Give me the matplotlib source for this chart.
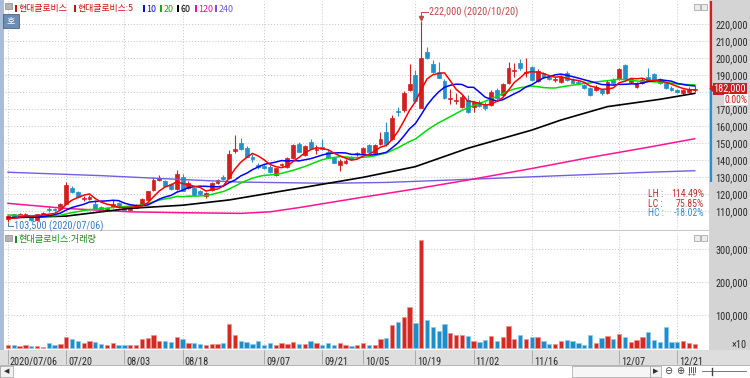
import numpy as np
import pandas as pd
import matplotlib
matplotlib.use("Agg")
import matplotlib.pyplot as plt
import matplotlib.transforms as mtransforms
from matplotlib import font_manager
from matplotlib.font_manager import FontProperties
from matplotlib.patches import Rectangle, Polygon

# ---------------- data ----------------
name = "현대글로비스"

tick_idx = [0, 10, 20, 30, 44, 54, 61, 70, 80, 90, 105, 115]
tick_labels = ["2020/07/06", "07/20", "08/03", "08/18", "09/07", "09/21",
               "10/05", "10/19", "11/02", "11/16", "12/07", "12/21"]

# closes before 07/06, only used to start the 5/10/20 day averages
prior_close = [110000, 112500, 111000, 109000, 107500, 106000, 108000, 110500, 109500, 108000,
               107000, 106500, 105500, 106000, 107500, 106500, 105000, 104500, 105500]

open_ = [105500, 108000, 107000, 107500, 106500, 105000, 107500, 111000, 111000, 111300,
         114200, 123800, 121000, 117300, 117000, 114000, 112300, 111000, 112300, 114800,
         111700, 110500, 112000, 113600, 116700, 122500, 128300, 127700, 125700, 122900,
         130200, 123800, 123300, 121900, 119000, 122300, 126300, 130200, 129600, 145500,
         150000, 147300, 142000, 137000, 136500, 136100, 131200, 137000, 136100, 141000,
         149200, 143000, 150400, 146000, 147800, 145000, 141400, 137000, 138000, 141500,
         143300, 144000, 148800, 144300, 149400, 156700, 152400, 169000, 169400, 181200,
         190000, 170800, 203300, 196300, 191600, 186500, 175800, 174800, 171400, 175300,
         171400, 174000, 172500, 172400, 181200, 178200, 185100, 192500, 196900, 191000,
         194900, 186700, 191000, 189000, 187300, 186000, 191000, 187000, 186000, 184100,
         182200, 181200, 181200, 179200, 187100, 187500, 195900, 186100, 183100, 185100,
         189000, 190400, 187500, 185100, 182500, 181200, 179200, 180200, 181000]

high = [107500, 108500, 109000, 109000, 107000, 108500, 109500, 113000, 112000, 115000,
        127000, 125000, 122000, 119000, 119500, 116500, 113000, 112500, 116700, 115500,
        112500, 112500, 114000, 117500, 122000, 130000, 131000, 128500, 126500, 134400,
        131500, 127500, 124000, 122500, 121000, 127000, 129000, 131000, 146000, 154700,
        153000, 148500, 143500, 138000, 137500, 137000, 135500, 138500, 141500, 149500,
        150500, 149000, 152500, 149000, 152300, 146000, 142000, 140500, 140500, 142500,
        145000, 147800, 149500, 149500, 156700, 162500, 166500, 171000, 180500, 196300,
        193000, 222000, 206700, 199000, 197800, 187500, 182000, 179500, 178000, 178500,
        175000, 175500, 174000, 181000, 182500, 185500, 197800, 196900, 199500, 199800,
        195500, 193500, 192000, 190000, 189000, 190000, 192500, 188000, 187000, 185000,
        183000, 184000, 182000, 187000, 188500, 194000, 196500, 188500, 186000, 188000,
        194000, 191000, 188500, 186000, 183500, 182000, 182000, 183000, 183500]

low = [103500, 106000, 106500, 107000, 104000, 104500, 107000, 109500, 110000, 111000,
       114000, 120500, 117500, 116000, 116500, 111000, 110500, 110500, 112000, 112000,
       110000, 110000, 111500, 113000, 116500, 122000, 127500, 124500, 122500, 122500,
       121500, 123000, 119000, 119500, 117500, 122000, 126000, 128300, 129000, 144000,
       146000, 141500, 139000, 135000, 135000, 132500, 130800, 136000, 135500, 140500,
       144500, 142500, 146500, 143500, 146000, 141000, 138000, 133700, 137500, 140000,
       142500, 143500, 144500, 144000, 149000, 148500, 152000, 166000, 168500, 180500,
       174000, 170500, 199600, 191000, 188000, 175800, 173000, 173000, 170500, 167500,
       168500, 171000, 169500, 171500, 175500, 177500, 184500, 189000, 193000, 189000,
       186500, 186000, 188500, 187000, 186000, 185500, 186500, 184500, 184500, 181500,
       177500, 180500, 178500, 179000, 185000, 187000, 187000, 185500, 182500, 184500,
       186500, 186500, 185000, 181500, 180500, 179500, 178500, 179500, 180000]

close = [107000, 106500, 108500, 108500, 104500, 108000, 109000, 110500, 110800, 114200,
         125200, 121300, 118100, 117700, 118000, 111300, 111000, 112000, 114200, 112300,
         110400, 112000, 113300, 117100, 121500, 128000, 129200, 124800, 122900, 131500,
         122000, 126700, 119400, 120000, 120500, 126300, 128300, 128700, 143700, 146500,
         146500, 142000, 140600, 136000, 135500, 133100, 135100, 137800, 141000, 148800,
         144900, 148400, 147300, 146500, 146500, 141400, 138400, 139600, 139600, 140600,
         144300, 147300, 145000, 148800, 152400, 149200, 164900, 168400, 179200, 184500,
         174700, 199800, 200200, 191600, 188400, 176300, 176300, 175300, 177300, 168000,
         174300, 171500, 170400, 180200, 176300, 184700, 193900, 193000, 193900, 192000,
         187000, 192500, 189000, 187500, 187500, 189000, 187100, 185100, 185100, 182200,
         178200, 183100, 179200, 186100, 185500, 193300, 187500, 187500, 185100, 187100,
         187100, 187100, 185500, 182200, 181200, 180200, 181200, 182000, 182000]

# volume in chart units (x10)
volume = [8000, 10000, 7000, 9000, 6000, 6000, 4000, 15000, 9000, 11000,
          33000, 26000, 21000, 15000, 20000, 19000, 11000, 9000, 15000, 8000,
          8000, 10000, 9000, 28000, 30000, 40000, 21000, 21000, 18000, 33000,
          27000, 16000, 15000, 12000, 9000, 12000, 12000, 15000, 72000, 40000,
          20000, 18000, 12000, 20000, 8000, 14000, 8000, 14000, 12000, 19000,
          11000, 12000, 20000, 15000, 10000, 14000, 10000, 14000, 8000, 6000,
          8000, 15000, 10000, 10000, 28000, 30000, 70000, 79000, 93000, 125000,
          76000, 327000, 85000, 64000, 51000, 74000, 46000, 40000, 40000, 36000,
          20000, 18000, 23000, 35000, 20000, 33000, 66000, 27000, 38000, 27000,
          32000, 32000, 20000, 12000, 12000, 20000, 25000, 20000, 14000, 10000,
          38000, 14000, 30000, 35000, 26000, 42000, 33000, 18000, 24000, 32000,
          47000, 23000, 17000, 64000, 19000, 17000, 20000, 16000, 11000]

# long averages need history the chart does not show: read at a few days
ma60_idx = [0, 10, 21, 30, 38, 50, 61, 70, 79, 90, 95, 103, 112, 118]
ma60_val = [106000, 107000, 111600, 113400, 116500, 123400, 129800, 136100, 146900,
            157600, 163500, 171400, 175700, 179200]
ma120_idx = [0, 10, 21, 30, 40, 45, 50, 60, 70, 79, 90, 100, 110, 118]
ma120_val = [114500, 111500, 109500, 109000, 108600, 109500, 112000, 117600, 123000,
             128200, 135000, 141500, 147500, 152500]
ma240_idx = [0, 16, 30, 40, 55, 65, 79, 95, 110, 118]
ma240_val = [132800, 130800, 128500, 127000, 126300, 126800, 128600, 130800, 132800, 133700]

side_bar_low = 127000

# ---------------- fonts ----------------
avail = {f.name for f in font_manager.fontManager.ttflist}
narrow = None
for cand in ["Liberation Sans Narrow", "Roboto Condensed", "Open Sans Condensed"]:
    if cand in avail:
        narrow = cand
        break
if narrow:
    NUM = FontProperties(family=narrow, size=7.4)
    NUM_S = FontProperties(family=narrow, size=7.0)
else:
    NUM = FontProperties(family="DejaVu Sans", stretch="condensed", size=5.9)
    NUM_S = FontProperties(family="DejaVu Sans", stretch="condensed", size=5.6)
KR = ["Noto Sans CJK KR", "DejaVu Sans"]

RED = "#d21f1f"
BLUE = "#2390c9"

# ---------------- layout helpers ----------------
W, H = 750, 378
fig = plt.figure(figsize=(W / 100, H / 100), dpi=100)
fig.patch.set_facecolor("white")


def fbox(x0, y0, x1, y1):
    return [x0 / W, 1 - y1 / H, (x1 - x0) / W, (y1 - y0) / H]


def frect(x0, y0, x1, y1, zorder=-1, **kw):
    fig.patches.append(Rectangle((x0 / W, 1 - y1 / H), (x1 - x0) / W, (y1 - y0) / H,
                                 transform=fig.transFigure, zorder=zorder, **kw))


def ftext(x, y, s, **kw):
    return fig.text(x / W, 1 - y / H, s, **kw)


# backgrounds (behind the axes)
frect(709, 0, 750, 350, fc="#d4d4d4", ec="none")
frect(0, 350, 750, 365, fc="#dedede", ec="none")
frect(0, 365, 750, 378, fc="white", ec="#a8a8a8", lw=0.6)
frect(0, 0, 4, 350, fc="#a9bddb", ec="none")
frect(4, 229.5, 709, 231, fc="#c8c8c8", ec="none")

P_TOP, P_BOT = 1, 229
V_TOP, V_BOT = 233, 350
ax = fig.add_axes(fbox(5, P_TOP, 709, P_BOT))
axv = fig.add_axes(fbox(5, V_TOP, 709, V_BOT), sharex=ax)

x = np.arange(len(close))
o = np.array(open_)
h = np.array(high)
l = np.array(low)
c = np.array(close)
up = c >= o
cols = np.where(up, RED, BLUE)

# ---------------- price panel ----------------
ax.vlines(x, l, h, colors=cols, lw=0.8, zorder=3)
body_lo = np.minimum(o, c)
body_h = np.maximum(np.abs(c - o), 250)
ax.bar(x, body_h, bottom=body_lo, width=0.66, color=cols, edgecolor=cols, lw=0.5, zorder=4)

full = pd.Series(prior_close + close, dtype=float)
n_prior = len(prior_close)
for n, colr in [(20, "#00dd00"), (10, "#0000ff"), (5, "#ff0000")]:
    ma = full.rolling(n).mean().to_numpy()[n_prior:]
    ax.plot(x, ma, color=colr, lw=1.1, zorder=6)
ax.plot(ma240_idx, ma240_val, color="#7060e0", lw=1.0, zorder=5)
ax.plot(ma120_idx, ma120_val, color="#ff1493", lw=1.1, zorder=5)
ax.plot(ma60_idx, ma60_val, color="black", lw=1.2, zorder=5)

ax.set_xlim((5 - 8) / 5.82, (709 - 8) / 5.82)
ax.set_ylim(220000 - (P_BOT - 24) / 17 * 10000, 220000 + (24 - P_TOP) / 17 * 10000)
# the current-price box hides the tick label it sits on
yt = [v for v in range(110000, 220001, 10000) if abs(v - c[-1]) > 5000]
ax.set_yticks(yt)
ax.set_yticklabels([f"{v:,}" for v in yt])
ax.yaxis.tick_right()
ax.tick_params(axis="y", length=0, pad=4.5, labelcolor="#2a2a2a")
for t in ax.get_yticklabels():
    t.set_fontproperties(NUM)
ax.set_xticks(tick_idx)
ax.tick_params(axis="x", length=0, labelbottom=False)
grid_kw = dict(color="#c4c4c4", linestyle=(0, (1, 2)), lw=0.7)
ax.grid(True, **grid_kw)
ax.axhline(180000, **grid_kw, zorder=0)
ax.set_axisbelow(True)
for s in ax.spines.values():
    s.set_visible(False)

# high / low marks
hi_i = int(np.argmax(h))
lo_i = int(np.argmin(l))
hi_c = "#c04848"
ax.plot([hi_i, hi_i, hi_i + 1.2], [h[hi_i] + 600, h[hi_i] + 5000, h[hi_i] + 5000], color=hi_c, lw=0.7, zorder=7)
ax.plot([hi_i], [h[hi_i] + 1800], marker="v", ms=3, color=hi_c, zorder=7)
ax.text(hi_i + 1.3, h[hi_i] + 5000, f"{h[hi_i]:,} (2020/10/20)", color=hi_c, va="center",
        ha="left", fontproperties=NUM, zorder=7)
lo_c = "#3b7cc0"
ax.plot([lo_i, lo_i, lo_i + 0.9], [l[lo_i] - 300, l[lo_i] - 2400, l[lo_i] - 2400], color=lo_c, lw=0.7, zorder=7)
ax.text(lo_i + 1.0, l[lo_i] - 2400, f"{l[lo_i]:,} (2020/07/06)", color=lo_c, va="center",
        ha="left", fontproperties=NUM, zorder=7)

# period stats
lh = (h.max() / l.min() - 1) * 100
lc = (c[-1] / l.min() - 1) * 100
hc = (c[-1] / h.max() - 1) * 100
for yy, lab, val, colr in [(194, "LH :", lh, "#c03030"), (204, "LC :", lc, "#c03030"),
                           (213, "HC :", hc, "#3a8cc8")]:
    ftext(648, yy, lab, color=colr, va="center", ha="left", fontproperties=NUM_S)
    ftext(704, yy, f"{val:.2f}%", color=colr, va="center", ha="right", fontproperties=NUM_S)

# current price box and side bar
blend = mtransforms.blended_transform_factory(ax.transAxes, ax.transData)
ylo, yhi = ax.get_ylim()
ax.vlines([1.0022], [c[-1]], [yhi], colors="#d02020", lw=1.6, transform=blend, clip_on=False)
ax.vlines([1.0022], [side_bar_low], [c[-1]], colors="#2a8fd0", lw=1.6, transform=blend, clip_on=False)
ax.add_patch(Polygon([(1.0005, c[-1]), (1.0065, c[-1] + 2300), (1.0065, c[-1] - 2300)],
                     closed=True, fc="#c81e1e", ec="none", transform=blend, clip_on=False, zorder=8))
ax.text(1.0065, c[-1], f"{c[-1]:,}", transform=blend, ha="left", va="center", color="white",
        fontproperties=NUM, clip_on=False, zorder=9,
        bbox=dict(boxstyle="square,pad=0.1", fc="#c81e1e", ec="none"))
chg = (c[-1] / c[-2] - 1) * 100
ax.text(1.0545, c[-1] - 6600, f"{chg:.2f}%", transform=blend, ha="right", va="center",
        color="#d02020", fontproperties=NUM_S, clip_on=False, zorder=9,
        bbox=dict(boxstyle="square,pad=0.05", fc="white", ec="none"))

# ---------------- volume panel ----------------
vcol = np.where(up, "#d42a24", "#1f8dc7")
vedge = np.where(up, "#f09090", "#8ccaee")
axv.bar(x, volume, width=0.74, color=vcol, edgecolor=vedge, lw=0.5, zorder=3)
axv.set_ylim(-(V_BOT - 348) / 33 * 100000, (348 - V_TOP) / 33 * 100000)
vt = [100000, 200000, 300000]
axv.set_yticks(vt)
axv.set_yticklabels([f"{v:,}" for v in vt])
axv.yaxis.tick_right()
axv.tick_params(axis="y", length=0, pad=4.5, labelcolor="#2a2a2a")
for t in axv.get_yticklabels():
    t.set_fontproperties(NUM)
axv.grid(True, **grid_kw)
axv.set_axisbelow(True)
for s in axv.spines.values():
    s.set_visible(False)
axv.set_xticks(tick_idx)
axv.set_xticklabels(tick_labels, ha="left")
axv.tick_params(axis="x", length=10, width=0.6, color="#a4a4a4", pad=-5.6, labelcolor="#2a2a2a")
shift = mtransforms.ScaledTranslation(2 / 100, 0, fig.dpi_scale_trans)
for t in axv.get_xticklabels():
    t.set_fontproperties(NUM)
    t.set_transform(t.get_transform() + shift)
ftext(747, 345, "×10", ha="right", va="center", color="#2a2a2a", fontproperties=NUM)

# ---------------- header texts / icons ----------------
frect(5, 3, 12, 9, zorder=5, fc="#b4b4b4", ec="#8a8a8a", lw=0.5)
frect(3, 14, 19, 28, zorder=5, fc="#6d8db5", ec="#44648c", lw=0.6)
ftext(11, 21, "호", color="white", ha="center", va="center", family=KR, fontsize=6.5, zorder=6)

header = [(15, "#d01010", name), (74, "#d01010", name + ":5"), (143, "#1010e0", "10"),
          (160, "#10b010", "20"), (177, "#000000", "60"), (195, "#ff1090", "120"),
          (215, "#6a5acd", "240")]
for px, colr, s in header:
    frect(px, 5.5, px + 2, 12, zorder=5, fc=colr, ec="none")
    ftext(px + 3.5, 9, s, color=colr, ha="left", va="center", family=KR, fontsize=6.4, zorder=6)

frect(5, 235, 12, 241, zorder=5, fc="#b4b4b4", ec="#8a8a8a", lw=0.5)
frect(15, 236, 17, 243, zorder=5, fc="#1e8a1e", ec="none")
ftext(18.5, 239.5, name + ":거래량", color="#1e8a1e", ha="left", va="center", family=KR,
      fontsize=6.6, zorder=6)

for yy in (4, 235):
    frect(694, yy, 700, yy + 6, zorder=5, fc="#ececec", ec="#9a9a9a", lw=0.5)
    frect(701, yy, 707, yy + 6, zorder=5, fc="#ececec", ec="#9a9a9a", lw=0.5)

# ---------------- bottom bar ----------------
frect(0, 366, 13, 377, zorder=1, fc="#f2f2f2", ec="#a0a0a0", lw=0.5)
ftext(6.5, 371.5, "◀", ha="center", va="center", fontsize=5, color="#303030", zorder=2)
frect(572, 366, 650, 377, zorder=1, fc="#f6f6f6", ec="#a0a0a0", lw=0.5)
frect(650, 366, 661, 377, zorder=1, fc="#f2f2f2", ec="#a0a0a0", lw=0.5)
ftext(655.5, 371.5, "▶", ha="center", va="center", fontsize=5, color="#303030", zorder=2)
ftext(664, 371.5, "⊖", ha="left", va="center", fontsize=7, color="#404040", zorder=2)
ftext(676, 371.5, "⊕", ha="left", va="center", fontsize=7, color="#404040", zorder=2)
for k in range(4):
    fig.lines.append(plt.Line2D([(689 + 2 * k) / W] * 2, [1 - 367 / H, 1 - 372 / H],
                                transform=fig.transFigure, color="#404040", lw=0.6))
ftext(692, 375, "++", ha="center", va="center", fontsize=4.5, color="#404040", zorder=2)
fig.lines.append(plt.Line2D([702 / W, 746 / W], [1 - 371 / H, 1 - 371 / H],
                            transform=fig.transFigure, color="#606060", lw=0.6))
fig.lines.append(plt.Line2D([712 / W, 712 / W], [1 - 368 / H, 1 - 375 / H],
                            transform=fig.transFigure, color="#404040", lw=1.0))

fig.savefig("out.png", dpi=100)
